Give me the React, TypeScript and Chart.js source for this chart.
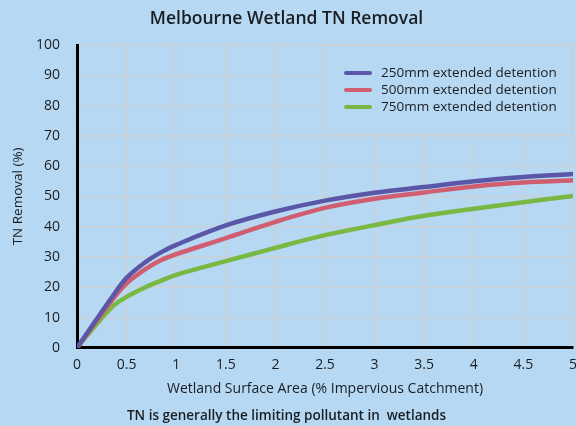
import React, { useEffect, useRef } from "react";
import { Chart, registerables } from "chart.js";

Chart.register(...registerables);

const FONT = "'Open Sans', sans-serif";
const BG = "#b6d8f2";
const GRID = "#c9d0d6";
const TEXT = "#1a1e22";

const titleText = "Melbourne Wetland TN Removal";
const subtitleText = "TN is generally the limiting pollutant in  wetlands";
const xTitle = "Wetland Surface Area (% Impervious Catchment)";
const yTitle = "TN Removal (%)";

const areaPct = [0, 0.35, 0.5, 0.69, 0.85, 1, 1.5, 2, 2.5, 3, 3.5, 4, 4.5, 5];
const series250 = [0, 16.6, 23.1, 28.3, 31.6, 34, 40.4, 45, 48.6, 51.2, 53.1, 55, 56.4, 57.4];
const series500 = [0, 15.6, 21.3, 26, 29, 30.9, 36.2, 41.6, 46.2, 49.2, 51.3, 53.3, 54.6, 55.3];
const series750 = [0, 13.4, 16.8, 20, 22.2, 24.1, 28.6, 33, 37.2, 40.5, 43.6, 45.9, 48.1, 50.1];

const seriesNames = [
  "250mm extended detention",
  "500mm extended detention",
  "750mm extended detention",
];
const seriesColors = ["#5a56a8", "#d05e70", "#78b843"];

const legendBox = {
  id: "legendBox",
  beforeDatasetsDraw(chart: any) {
    const { ctx, chartArea } = chart;
    const right = chartArea.right - 1;
    const top = chartArea.top;
    const w = 247;
    const h = 90;
    const left = right - w;
    ctx.save();
    ctx.fillStyle = BG;
    ctx.fillRect(left, top, w, h);
    ctx.strokeStyle = GRID;
    ctx.lineWidth = 1.5;
    ctx.strokeRect(left, top, w, h);
    ctx.font = `13.5px ${FONT}`;
    ctx.textBaseline = "middle";
    ctx.textAlign = "left";
    chart.data.datasets.forEach((ds: any, i: number) => {
      const y = top + 28 + i * 17;
      ctx.strokeStyle = ds.borderColor;
      ctx.lineWidth = 4;
      ctx.lineCap = "round";
      ctx.beginPath();
      ctx.moveTo(left + 21, y);
      ctx.lineTo(left + 45, y);
      ctx.stroke();
      ctx.fillStyle = TEXT;
      ctx.fillText(ds.label, left + 56, y);
    });
    ctx.restore();
  },
};

export default function App() {
  const ref = useRef<HTMLCanvasElement>(null);
  useEffect(() => {
    document.body.style.margin = "0";
    const all = [series250, series500, series750];
    const chart = new Chart(ref.current!, {
      type: "line",
      data: {
        datasets: all.map((s, i) => ({
          label: seriesNames[i],
          data: areaPct.map((x, j) => ({ x, y: s[j] })),
          borderColor: seriesColors[i],
          backgroundColor: seriesColors[i],
          borderWidth: 4.5,
          pointRadius: 0,
          tension: 0.35,
          borderCapStyle: "round" as const,
          borderJoinStyle: "round" as const,
          fill: false,
        })),
      },
      options: {
        animation: false,
        responsive: false,
        maintainAspectRatio: false,
        layout: { padding: { left: 0, right: 3, top: 0, bottom: 0 } },
        plugins: {
          legend: { display: false },
          tooltip: { enabled: false },
          title: {
            display: true,
            text: titleText,
            color: TEXT,
            font: { family: FONT, size: 17.5, weight: 600 },
            padding: { top: 9, bottom: 15 },
          },
          subtitle: {
            display: true,
            position: "bottom",
            text: subtitleText,
            color: TEXT,
            font: { family: FONT, size: 13.5, weight: 600 },
            padding: { top: 5, bottom: 2 },
          },
        },
        scales: {
          x: {
            type: "linear",
            min: 0,
            max: 5,
            ticks: {
              stepSize: 0.5,
              color: TEXT,
              font: { family: FONT, size: 14 },
              padding: 9,
              maxRotation: 0,
              callback: (v: any) => String(v),
            },
            grid: { color: GRID, lineWidth: 1.5, drawTicks: false },
            border: { color: "#000", width: 3 },
            title: {
              display: true,
              text: xTitle,
              color: TEXT,
              font: { family: FONT, size: 14 },
              padding: { top: 4, bottom: 5 },
            },
            afterFit: (s: any) => {
              s.height = 55;
              s.paddingRight = 0;
              s.paddingLeft = 0;
            },
          },
          y: {
            min: 0,
            max: 100,
            ticks: {
              stepSize: 10,
              color: TEXT,
              font: { family: FONT, size: 14 },
              padding: 17,
            },
            grid: { color: GRID, lineWidth: 1.5, drawTicks: false },
            border: { color: "#000", width: 3 },
            title: {
              display: true,
              text: yTitle,
              color: TEXT,
              font: { family: FONT, size: 13.5 },
              padding: { top: 10, bottom: 0 },
            },
            afterFit: (s: any) => {
              s.width = 77;
            },
          },
        },
      },
      plugins: [legendBox],
    });
    return () => chart.destroy();
  }, []);
  return (
    <div style={{ position: "fixed", left: 0, top: 0, width: 576, height: 426, background: BG }}>
      <canvas ref={ref} width={576} height={426} style={{ display: "block" }} />
    </div>
  );
}
